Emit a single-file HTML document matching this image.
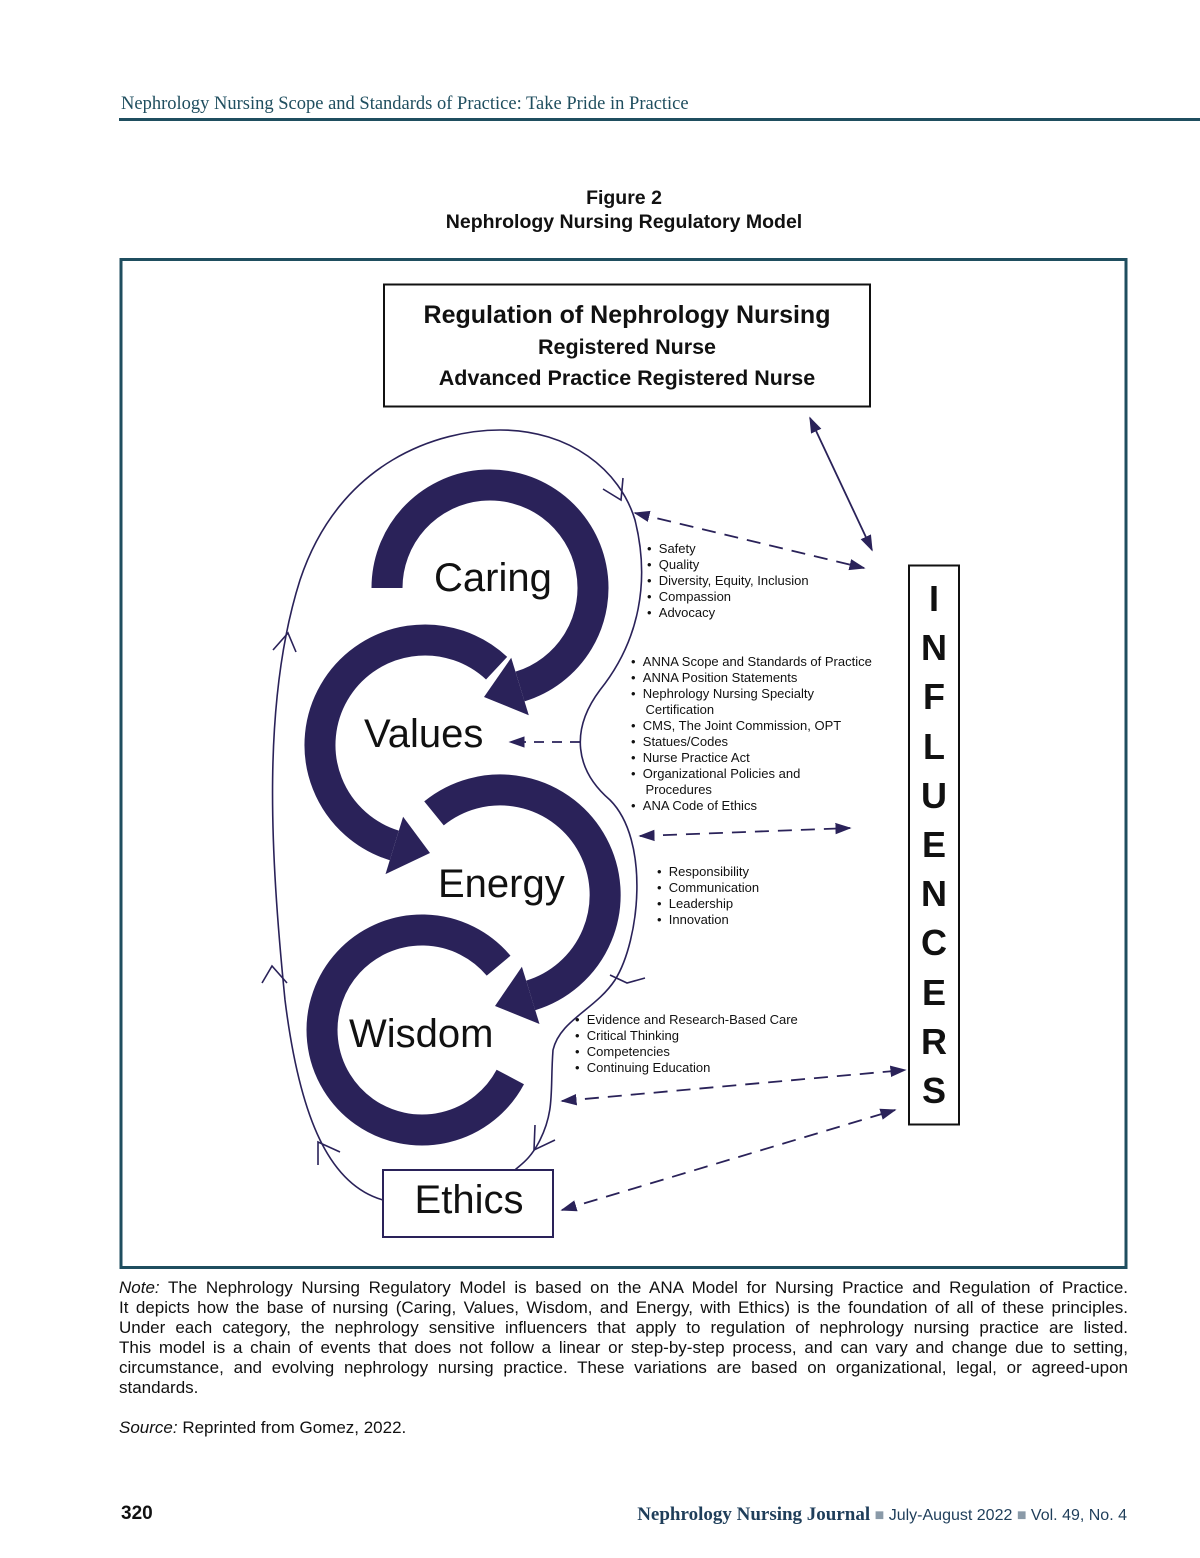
<!DOCTYPE html>
<html><head><meta charset="utf-8"><style>
body{margin:0;background:#fff;}
.pg{position:relative;width:1200px;height:1558px;font-family:"Liberation Sans",sans-serif;color:#111;}
.a{position:absolute;white-space:nowrap;}
.ser{font-family:"Liberation Serif",serif;}
.li{font-size:13px;line-height:16px;}
.nl{text-align:justify;text-align-last:justify;white-space:nowrap;}
</style></head><body><div class="pg">
<div class="a ser" style="left:121px;top:94px;font-size:18.5px;color:#1f4e5f;">Nephrology Nursing Scope and Standards of Practice: Take Pride in Practice</div>
<div class="a" style="left:119px;top:118px;width:1081px;height:3px;background:#1f4e5f;"></div>
<div class="a" style="left:0;width:1248px;top:186px;text-align:center;font-weight:bold;font-size:19.5px;line-height:24px;">Figure 2<br>Nephrology Nursing Regulatory Model</div>

<svg class="a" style="left:0;top:0" width="1200" height="1558" viewBox="0 0 1200 1558">
<defs>
<marker id="ah" viewBox="0 0 10 10" refX="9" refY="5" markerWidth="9" markerHeight="9" orient="auto-start-reverse"><path d="M0,1.5 L10,5 L0,8.5 z" fill="#2a2259"/></marker>
</defs>
<rect x="121" y="259.5" width="1005" height="1008" fill="none" stroke="#1f4e5f" stroke-width="3"/>
<rect x="384" y="284.5" width="486" height="122" fill="none" stroke="#111" stroke-width="2"/>
<rect x="909" y="565.5" width="50" height="559" fill="none" stroke="#111" stroke-width="2"/>
<rect x="383" y="1170" width="170" height="67" fill="none" stroke="#2a2259" stroke-width="2"/>
<g fill="none" stroke="#2a2259" stroke-width="31">
<path d="M387 588 A103 103 0 1 1 520 686.5"/>
<path d="M496.6 668.2 A105 105 0 1 0 394.3 845.4"/>
<path d="M434 813.4 A105 105 0 1 1 530.7 995.4"/>
<path d="M498.6 965.7 A100 100 0 1 0 510.3 1077"/>
</g>
<g fill="#2a2259">
<polygon points="528.8,715.2 511.2,657.8 484,697"/>
<polygon points="385.5,874.1 403.1,816.7 430,853"/>
<polygon points="539.5,1024 521.9,966.7 495,1006"/>
</g>
<g fill="none" stroke="#2a2259" stroke-width="1.6">
<path d="M383 1200 C330 1185,300 1120,285 1000 C270 850,262 700,300 580 C340 460,440 430,500 430 C570 430,620 470,635 520 C650 580,640 640,600 690 C570 730,575 770,610 800 C650 840,640 940,615 980 C595 1010,560 1020,553 1050 C550 1090,555 1110,540 1140 C530 1160,520 1165,515 1170"/>
<path d="M273 650 L288 633 L296 652"/>
<path d="M262 983 L272 966 L287 983"/>
<path d="M318 1165 L318 1142 L340 1152"/>
<path d="M603 489 L621 500 L623 478"/>
<path d="M610 975 L627 983 L645 978"/>
<path d="M535 1125 L534 1150 L555 1140"/>
</g>
<g stroke="#2a2259" stroke-width="1.8" fill="none">
<line x1="810" y1="418" x2="872" y2="550" marker-start="url(#ah)" marker-end="url(#ah)"/>
<line x1="635" y1="513" x2="864" y2="568" stroke-dasharray="14,9" marker-start="url(#ah)" marker-end="url(#ah)"/>
<line x1="580" y1="742" x2="510" y2="742" stroke-dasharray="10,8" marker-end="url(#ah)"/>
<line x1="640" y1="836" x2="850" y2="828" stroke-dasharray="14,9" marker-start="url(#ah)" marker-end="url(#ah)"/>
<line x1="562" y1="1101" x2="905" y2="1070" stroke-dasharray="14,9" marker-start="url(#ah)" marker-end="url(#ah)"/>
<line x1="562" y1="1210" x2="895" y2="1110" stroke-dasharray="14,9" marker-start="url(#ah)" marker-end="url(#ah)"/>
</g>
</svg>

<div class="a" style="left:384px;width:486px;top:298px;text-align:center;font-weight:bold;"><div style="font-size:25px;line-height:34px;">Regulation of Nephrology Nursing</div><div style="font-size:21.5px;line-height:31px;">Registered Nurse</div><div style="font-size:21.5px;line-height:31px;">Advanced Practice Registered Nurse</div></div>
<div class="a" style="left:909px;width:50px;top:574px;text-align:center;font-weight:bold;font-size:36px;line-height:49.2px;">I<br>N<br>F<br>L<br>U<br>E<br>N<br>C<br>E<br>R<br>S</div>

<div class="a" style="left:434px;top:556px;font-size:40px;">Caring</div>
<div class="a" style="left:364px;top:712px;font-size:40px;">Values</div>
<div class="a" style="left:438px;top:862px;font-size:40px;">Energy</div>
<div class="a" style="left:349px;top:1012px;font-size:40px;">Wisdom</div>
<div class="a" style="left:383px;width:172px;top:1178px;text-align:center;font-size:40px;">Ethics</div>

<div class="a li" style="left:647px;top:541px;">• &nbsp;Safety<br>• &nbsp;Quality<br>• &nbsp;Diversity, Equity, Inclusion<br>• &nbsp;Compassion<br>• &nbsp;Advocacy</div>
<div class="a li" style="left:631px;top:654px;">• &nbsp;ANNA Scope and Standards of Practice<br>• &nbsp;ANNA Position Statements<br>• &nbsp;Nephrology Nursing Specialty<br>&nbsp;&nbsp;&nbsp;&nbsp;Certification<br>• &nbsp;CMS, The Joint Commission, OPT<br>• &nbsp;Statues/Codes<br>• &nbsp;Nurse Practice Act<br>• &nbsp;Organizational Policies and<br>&nbsp;&nbsp;&nbsp;&nbsp;Procedures<br>• &nbsp;ANA Code of Ethics</div>
<div class="a li" style="left:657px;top:864px;">• &nbsp;Responsibility<br>• &nbsp;Communication<br>• &nbsp;Leadership<br>• &nbsp;Innovation</div>
<div class="a li" style="left:575px;top:1012px;">• &nbsp;Evidence and Research-Based Care<br>• &nbsp;Critical Thinking<br>• &nbsp;Competencies<br>• &nbsp;Continuing Education</div>

<div class="a" style="left:119px;top:1278px;width:1009px;font-size:17px;line-height:20px;">
<div class="nl"><i>Note:</i> The Nephrology Nursing Regulatory Model is based on the ANA Model for Nursing Practice and Regulation of Practice.</div>
<div class="nl">It depicts how the base of nursing (Caring, Values, Wisdom, and Energy, with Ethics) is the foundation of all of these principles.</div>
<div class="nl">Under each category, the nephrology sensitive influencers that apply to regulation of nephrology nursing practice are listed.</div>
<div class="nl">This model is a chain of events that does not follow a linear or step-by-step process, and can vary and change due to setting,</div>
<div class="nl">circumstance, and evolving nephrology nursing practice. These variations are based on organizational, legal, or agreed-upon</div>
<div>standards.</div>
</div>
<div class="a" style="left:119px;top:1418px;font-size:17px;"><i>Source:</i> Reprinted from Gomez, 2022.</div>
<div class="a" style="left:121px;top:1503px;font-size:19px;font-weight:bold;">320</div>
<div class="a" style="right:73px;top:1504px;font-size:16px;color:#1f3e5a;"><span class="ser" style="font-weight:bold;font-size:19px;">Nephrology Nursing Journal</span> <span style="color:#8a9aa8;">■</span> July-August 2022 <span style="color:#8a9aa8;">■</span> Vol. 49, No. 4</div>
</div></body></html>
